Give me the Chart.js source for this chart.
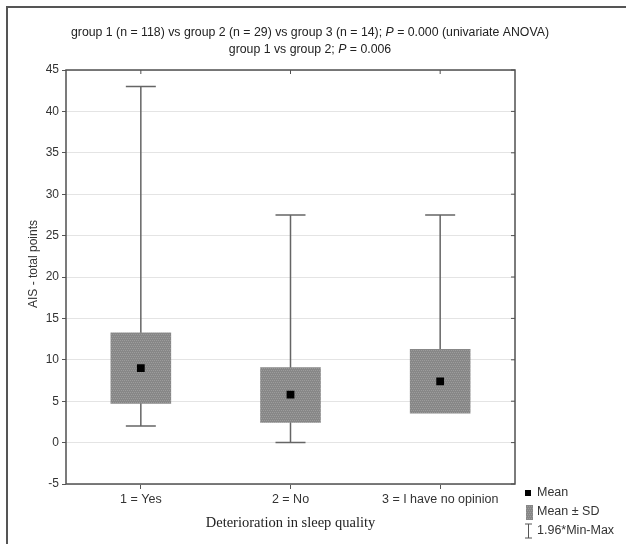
<!DOCTYPE html>
<html>
<head>
<meta charset="utf-8">
<script src="https://cdn.jsdelivr.net/npm/chart.js@4"></script>
<style>
  body { margin: 0; background: #fff; }
  canvas { display: block; }
</style>
</head>
<body>
<canvas id="sleepChart" width="626" height="544"></canvas>
<script>
// values
const categories = ['1 = Yes', '2 = No', '3 = I have no opinion'];
const means = [9.0, 5.8, 7.4];
const sdLow = [4.7, 2.4, 3.5];
const sdHigh = [13.3, 9.1, 11.3];
const minVals = [2, 0, 4];
const maxVals = [43, 27.5, 27.5];
const yTicks = [-5, 0, 5, 10, 15, 20, 25, 30, 35, 40, 45];

const sans = "'Liberation Sans', Arial, sans-serif";
const serif = "'Liberation Serif', 'Times New Roman', serif";

// grey hatched fill for the SD boxes
function boxPattern() {
    const c = document.createElement('canvas');
    c.width = 4; c.height = 4;
    const g = c.getContext('2d');
    g.fillStyle = '#878787';
    g.fillRect(0, 0, 4, 4);
    g.fillStyle = '#9c9c9c';
    for (let i = 0; i < 4; i++) g.fillRect(i, (i * 2) % 4, 1, 1);
    return g.createPattern(c, 'repeat');
}
const ctx = document.getElementById('sleepChart').getContext('2d');

// draws centred text made of plain/italic pieces
function mixedText(c, parts, cx, y, size) {
    let total = 0;
    parts.forEach(p => {
        c.font = (p[1] ? 'italic ' : '') + size + 'px ' + sans;
        total += c.measureText(p[0]).width;
    });
    let x = cx - total / 2;
    c.textAlign = 'left';
    c.textBaseline = 'middle';
    parts.forEach(p => {
        c.font = (p[1] ? 'italic ' : '') + size + 'px ' + sans;
        c.fillText(p[0], x, y);
        x += c.measureText(p[0]).width;
    });
}

const whiskers = {
    id: 'whiskers',
    beforeDatasetsDraw(chart) {
        const c = chart.ctx, xs = chart.scales.x, ys = chart.scales.y;
        c.save();
        c.strokeStyle = '#656565';
        c.lineWidth = 1.5;
        categories.forEach((cat, i) => {
            const x = xs.getPixelForValue(i);
            const top = ys.getPixelForValue(maxVals[i]);
            const bot = ys.getPixelForValue(minVals[i]);
            c.beginPath();
            c.moveTo(x, top); c.lineTo(x, bot);
            c.moveTo(x - 15, top); c.lineTo(x + 15, top);
            c.moveTo(x - 15, bot); c.lineTo(x + 15, bot);
            c.stroke();
        });
        c.restore();
    }
};

const decorations = {
    id: 'decorations',
    afterDraw(chart) {
        const c = chart.ctx, a = chart.chartArea;
        const xs = chart.scales.x, ys = chart.scales.y;
        c.save();
        // outer frame (top and left edges)
        c.strokeStyle = '#555';
        c.lineWidth = 2;
        c.beginPath();
        c.moveTo(7, 544); c.lineTo(7, 7); c.lineTo(626, 7);
        c.stroke();
        // plot border
        c.strokeStyle = '#505050';
        c.lineWidth = 1.5;
        c.strokeRect(a.left, a.top, a.right - a.left, a.bottom - a.top);
        // inner ticks on top and right edges
        c.lineWidth = 1;
        c.beginPath();
        categories.forEach((cat, i) => {
            const x = xs.getPixelForValue(i);
            c.moveTo(x, a.top); c.lineTo(x, a.top + 4);
        });
        yTicks.forEach(v => {
            const y = ys.getPixelForValue(v);
            c.moveTo(a.right, y); c.lineTo(a.right - 4, y);
        });
        c.stroke();

        // titles
        c.fillStyle = '#222';
        mixedText(c, [['group 1 (n = 118) vs group 2 (n = 29) vs group 3 (n = 14); ', false], ['P', true], [' = 0.000 (univariate ANOVA)', false]], 310, 33, 12.3);
        mixedText(c, [['group 1 vs group 2; ', false], ['P', true], [' = 0.006', false]], 310, 50, 12.3);

        // y axis title
        c.save();
        c.translate(34, 264);
        c.rotate(-Math.PI / 2);
        c.font = '12px ' + sans;
        c.textAlign = 'center';
        c.textBaseline = 'middle';
        c.fillStyle = '#333';
        c.fillText('AIS - total points', 0, 0);
        c.restore();

        // legend
        c.font = '12.5px ' + sans;
        c.textAlign = 'left';
        c.textBaseline = 'middle';
        c.fillStyle = '#000';
        c.fillRect(525, 490, 6, 6);
        c.fillStyle = '#333';
        c.fillText('Mean', 537, 493);
        c.fillStyle = boxPattern();
        c.fillRect(526, 505, 7, 15);
        c.fillStyle = '#333';
        c.fillText('Mean \u00b1 SD', 537, 512);
        c.strokeStyle = '#555';
        c.beginPath();
        c.moveTo(528.5, 524); c.lineTo(528.5, 538);
        c.moveTo(525, 524); c.lineTo(532, 524);
        c.moveTo(525, 538); c.lineTo(532, 538);
        c.stroke();
        c.fillText('1.96*Min-Max', 537, 531);
        c.restore();
    }
};

new Chart(ctx, {
    data: {
        labels: categories,
        datasets: [
            {
                type: 'line',
                label: 'Mean',
                data: means,
                showLine: false,
                pointStyle: 'rect',
                pointRadius: 5.5,
                pointBackgroundColor: '#000',
                pointBorderWidth: 0,
                order: 0
            },
            {
                type: 'bar',
                label: 'Mean \u00b1 SD',
                data: sdLow.map((lo, i) => [lo, sdHigh[i]]),
                backgroundColor: boxPattern(),
                borderWidth: 0,
                barPercentage: 0.405,
                categoryPercentage: 1,
                order: 1
            }
        ]
    },
    options: {
        responsive: false,
        animation: false,
        layout: { padding: { top: 70, right: 111, left: 0, bottom: 0 } },
        plugins: {
            legend: { display: false },
            title: { display: false },
            tooltip: { enabled: false }
        },
        scales: {
            x: {
                type: 'category',
                offset: true,
                border: { display: false },
                grid: { offset: false, drawOnChartArea: false, tickLength: 5, tickColor: '#555' },
                ticks: { color: '#333', font: { family: sans, size: 12.5 }, padding: 3 },
                title: {
                    display: true,
                    text: 'Deterioration in sleep quality',
                    color: '#222',
                    font: { family: serif, size: 14.5 },
                    padding: { top: 4, bottom: 12 }
                },
                afterFit(scale) { scale.height = 60; }
            },
            y: {
                min: -5,
                max: 45,
                afterBuildTicks(scale) { scale.ticks = yTicks.map(v => ({ value: v })); },
                border: { display: false },
                grid: { color: '#e4e4e4', tickLength: 4, tickColor: '#555' },
                ticks: { color: '#333', font: { family: sans, size: 12 }, padding: 3 },
                afterFit(scale) { scale.width = 66; }
            }
        }
    },
    plugins: [whiskers, decorations]
});
</script>
</body>
</html>
